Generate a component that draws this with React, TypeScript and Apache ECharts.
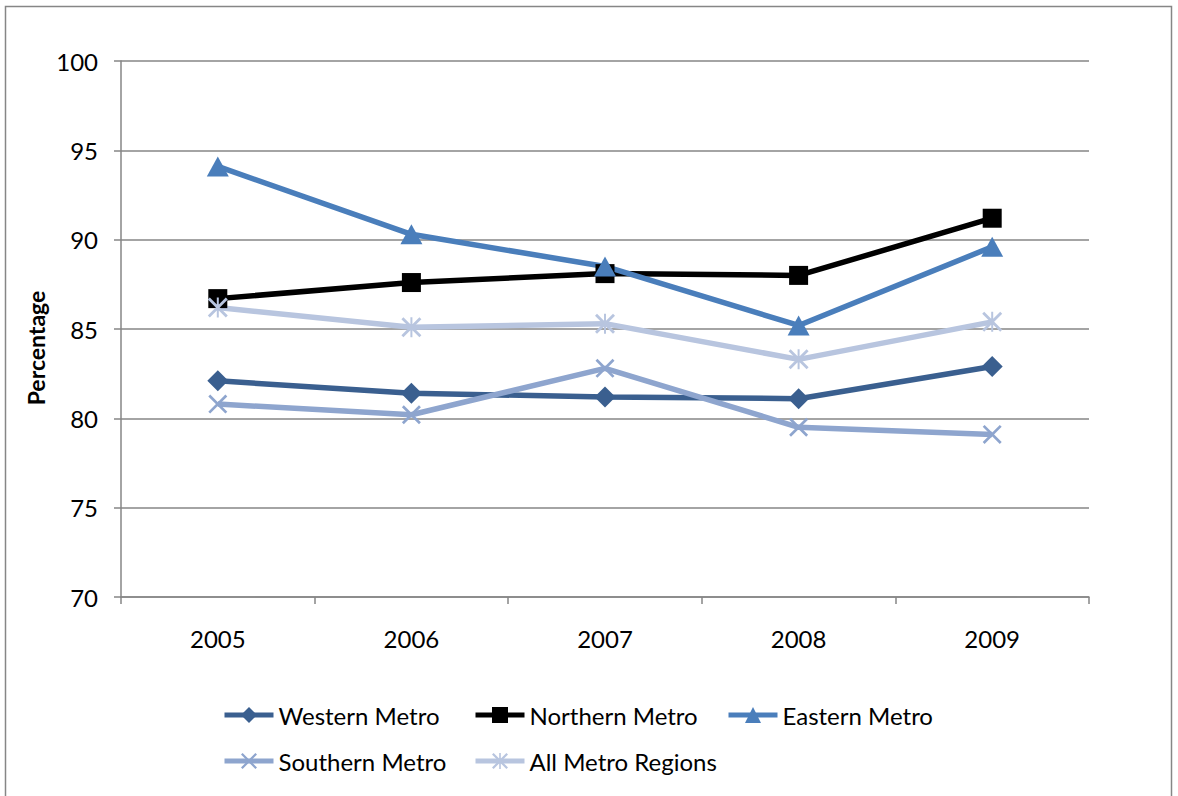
import React, { useEffect, useRef } from "react";
import * as echarts from "echarts";

const years = ["2005", "2006", "2007", "2008", "2009"];
const western = [82.1, 81.4, 81.2, 81.1, 82.9];
const northern = [86.7, 87.6, 88.1, 88.0, 91.2];
const eastern = [94.1, 90.3, 88.5, 85.2, 89.6];
const southern = [80.8, 80.2, 82.8, 79.5, 79.1];
const allMetro = [86.2, 85.1, 85.3, 83.3, 85.4];

const X_PATH = "path://M0,1 L1,0 L10,9 L9,10 Z M9,0 L10,1 L1,10 L0,9 Z";
const STAR_PATH =
  "path://M0,1 L1,0 L10,9 L9,10 Z M9,0 L10,1 L1,10 L0,9 Z M4.5,0 L5.5,0 L5.5,10 L4.5,10 Z";

const FONT = "Lato, 'Open Sans', sans-serif";

export default function App() {
  const ref = useRef<HTMLDivElement>(null);
  useEffect(() => {
    if (!ref.current) return;
    const chart = echarts.init(ref.current, undefined, { renderer: "svg" });
    const mk = (name: string, data: number[], color: string, symbol: string, size: any) => ({
      name,
      type: "line",
      data,
      symbol,
      symbolSize: size,
      showSymbol: true,
      lineStyle: { color, width: 5.5 },
      itemStyle: { color, borderWidth: 0 },
      emphasis: { disabled: true },
    });
    const legendBase = {
      orient: "horizontal",
      itemWidth: 49,
      itemHeight: 20,
      lineStyle: { width: 5 },
      textStyle: { fontSize: 24, color: "#000", fontFamily: FONT },
      selectedMode: false,
    };
    chart.setOption({
      animation: false,
      backgroundColor: "#fff",
      textStyle: { fontFamily: FONT },
      grid: { left: 121, top: 61, right: 89, bottom: 199, containLabel: false },
      xAxis: {
        type: "category",
        data: years,
        boundaryGap: true,
        axisLine: { lineStyle: { color: "#868686", width: 1.5 } },
        axisTick: { show: true, length: 7, lineStyle: { color: "#868686", width: 1.5 } },
        axisLabel: { color: "#000", fontSize: 24, margin: 29, fontFamily: FONT },
        splitLine: { show: false },
      },
      yAxis: {
        type: "value",
        min: 70,
        max: 100,
        interval: 5,
        axisLine: { show: true, lineStyle: { color: "#868686", width: 1.5 } },
        axisTick: { show: true, length: 7, lineStyle: { color: "#868686", width: 1.5 } },
        axisLabel: { color: "#000", fontSize: 24, margin: 23, fontFamily: FONT },
        splitLine: { show: true, lineStyle: { color: "#868686", width: 1.5 } },
      },
      legend: [
        { ...legendBase, left: 217, top: 698, data: ["Western Metro"] },
        { ...legendBase, left: 468, top: 698, data: ["Northern Metro"] },
        { ...legendBase, left: 721, top: 698, data: ["Eastern Metro"] },
        { ...legendBase, left: 217, top: 744, data: ["Southern Metro"] },
        { ...legendBase, left: 468, top: 744, data: ["All Metro Regions"] },
      ],
      graphic: [
        {
          type: "rect",
          shape: { x: 5.5, y: 6.5, width: 1166, height: 820 },
          style: { fill: "none", stroke: "#868686", lineWidth: 1.5 },
          silent: true,
        },
        {
          type: "text",
          x: 36,
          y: 348,
          rotation: Math.PI / 2,
          style: {
            text: "Percentage",
            fontSize: 23,
            fontWeight: "bold",
            fontFamily: FONT,
            fill: "#000",
            align: "center",
            verticalAlign: "middle",
          },
          silent: true,
        },
      ],
      series: [
        mk("Western Metro", western, "#3A5F8F", "diamond", 21),
        mk("Northern Metro", northern, "#000000", "rect", 19),
        mk("Eastern Metro", eastern, "#4A7EBB", "triangle", [22, 20]),
        mk("Southern Metro", southern, "#8EA5CE", X_PATH, 19),
        mk("All Metro Regions", allMetro, "#B8C5DF", STAR_PATH, 20),
      ],
    });
    return () => chart.dispose();
  }, []);
  return (
    <div
      ref={ref}
      style={{ position: "absolute", left: 0, top: 0, width: 1178, height: 796 }}
    />
  );
}
